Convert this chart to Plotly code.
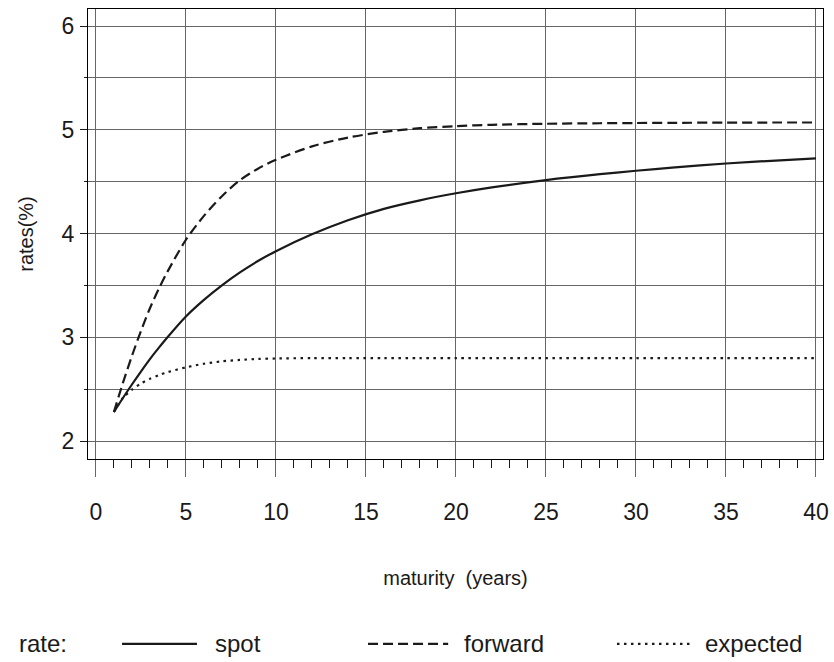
import plotly.graph_objects as go

# ---- data ----
maturity = [1, 1.5, 2, 2.5, 3, 3.5, 4, 5, 6, 7, 8, 9, 10, 12, 14, 16, 18, 20,
            22, 25, 28, 30, 32, 35, 38, 40]
spot = [2.28, 2.415, 2.545, 2.67, 2.79, 2.90, 3.005, 3.20, 3.36, 3.50, 3.625,
        3.735, 3.83, 3.992, 4.128, 4.238, 4.32, 4.388, 4.445, 4.515,
        4.572, 4.605, 4.635, 4.675, 4.706, 4.725]
forward = [2.28, 2.56, 2.82, 3.06, 3.28, 3.47, 3.64, 3.94, 4.17, 4.36, 4.515,
           4.625, 4.71, 4.84, 4.925, 4.98, 5.015, 5.035, 5.048, 5.058,
           5.063, 5.065, 5.067, 5.069, 5.07, 5.07]
expected = [2.28, 2.415, 2.495, 2.555, 2.60, 2.635, 2.665, 2.71, 2.745, 2.768,
            2.782, 2.791, 2.796, 2.799, 2.80, 2.80, 2.80, 2.80, 2.80,
            2.80, 2.80, 2.80, 2.80, 2.80, 2.80, 2.80]
series_names = ["spot", "forward", "expected"]
legend_title = "rate:"
x_ticks = [0, 5, 10, 15, 20, 25, 30, 35, 40]
y_ticks = [2, 3, 4, 5, 6]

FONT = "Liberation Sans, Arial, Helvetica, sans-serif"
INK = "#1a1a1a"
GRID = "#666666"
dashes = ["solid", "10px,5px", "2.5px,4.5px"]

fig = go.Figure()
for name, ys, dash in zip(series_names, [spot, forward, expected], dashes):
    fig.add_trace(go.Scatter(
        x=maturity, y=ys, name=name, mode="lines",
        line=dict(color=INK, width=2.2, dash=dash, shape="spline", smoothing=0.8),
        showlegend=False,
    ))

# custom legend (samples + labels) below the plot, in paper coordinates
leg_y = -0.411
fig.add_annotation(x=-0.0966, y=leg_y, xref="paper", yref="paper",
                   text=legend_title, showarrow=False, xanchor="left",
                   yanchor="middle", font=dict(size=24, color=INK, family=FONT))
sample_x = [(0.0463, 0.1483), (0.381, 0.490), (0.7197, 0.8218)]
label_x = [0.170, 0.5088, 0.8367]
for name, dash, (x0, x1), lx in zip(series_names, dashes, sample_x, label_x):
    fig.add_shape(type="line", xref="paper", yref="paper", x0=x0, x1=x1,
                  y0=leg_y, y1=leg_y, line=dict(color=INK, width=2.2, dash=dash))
    fig.add_annotation(x=lx, y=leg_y, xref="paper", yref="paper", text=name,
                       showarrow=False, xanchor="left", yanchor="middle",
                       font=dict(size=24, color=INK, family=FONT))

fig.update_layout(
    template="none",
    width=834, height=662,
    margin=dict(l=88, r=11, t=9, b=203, autoexpand=False),
    paper_bgcolor="white", plot_bgcolor="white",
    font=dict(family=FONT, color=INK),
    showlegend=False,
)
fig.update_xaxes(
    range=[-0.44, 40.39], tickvals=x_ticks, ticktext=[str(v) for v in x_ticks],
    ticks="outside", ticklen=17, tickwidth=1, tickcolor=GRID,
    showgrid=True, gridcolor=GRID, gridwidth=1.2, zeroline=False,
    showline=True, linecolor="black", linewidth=1.2, mirror=True,
    tickfont=dict(size=23, color=INK), ticklabelstandoff=15,
    minor=dict(dtick=1, tick0=0, ticks="outside", ticklen=8, tickcolor=INK,
               tickwidth=1, showgrid=False),
    title=dict(text="maturity  (years)", font=dict(size=20, color=INK), standoff=47),
    automargin=False,
)
fig.update_yaxes(
    range=[1.827, 6.164], tickvals=y_ticks, ticktext=[str(v) for v in y_ticks],
    ticks="outside", ticklen=7, tickwidth=1, tickcolor=INK,
    showgrid=True, gridcolor=GRID, gridwidth=1.2, zeroline=False,
    showline=True, linecolor="black", linewidth=1.2, mirror=True,
    tickfont=dict(size=23, color=INK), ticklabelstandoff=1,
    minor=dict(dtick=0.5, tick0=0, ticks="outside", ticklen=3, tickcolor=INK,
               tickwidth=1, showgrid=True, gridcolor=GRID, gridwidth=1.2),
    title=dict(text="rates(%)", font=dict(size=20, color=INK), standoff=22),
    automargin=False,
)

fig.write_html(
    "out.html",
    config={"displayModeBar": False},
    post_script="document.body.style.margin='0';document.body.style.overflow='hidden';",
)
